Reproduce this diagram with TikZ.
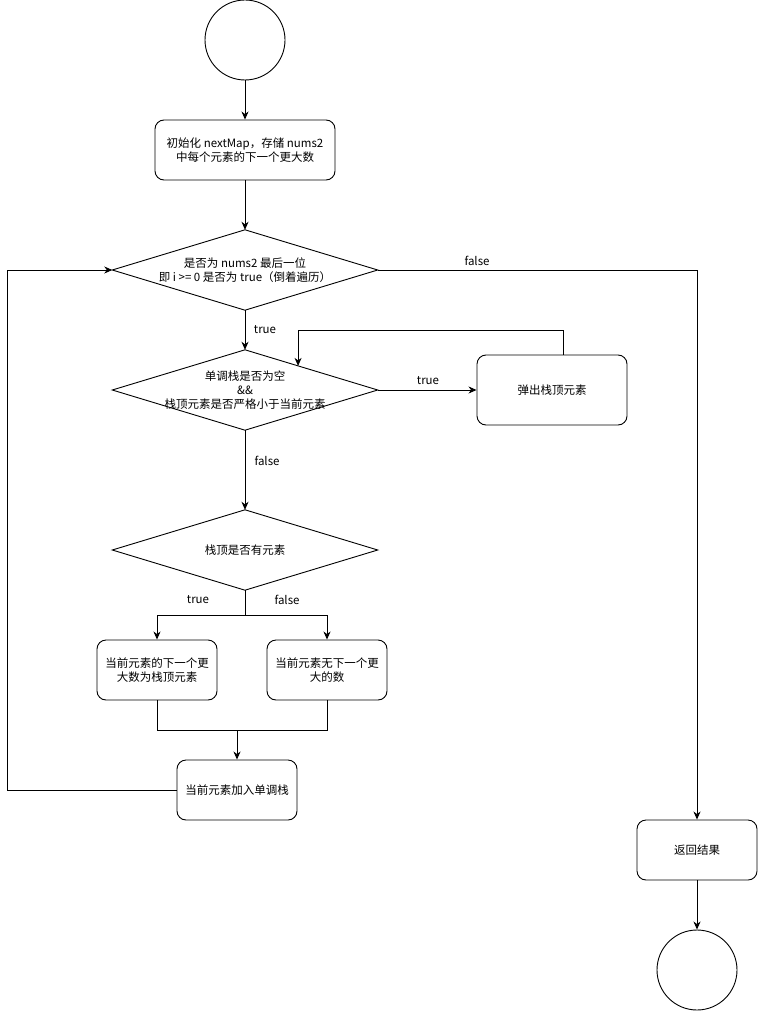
\documentclass[tikz,border=0pt]{standalone}
\usepackage{fontspec}
\setmainfont{Noto Sans CJK SC}
\usetikzlibrary{arrows.meta,calc}
\tikzset{
  every node/.style={font=\fontsize{11.5}{14}\selectfont},
  ln/.style={line width=0.9pt, draw=black},
  arr/.style={ln, -{Stealth[length=8pt,width=7pt,inset=2.5pt]}},
  rbox/.style={ln, rounded corners=9pt, minimum width=#1, minimum height=60pt, align=center, inner sep=2pt},
  dtext/.style={minimum width=265pt, minimum height=80pt, align=center, inner sep=0pt},
  circ/.style={ln, circle, minimum size=80pt, inner sep=0pt},
  lbl/.style={inner sep=1pt}
}
\begin{document}
\begin{tikzpicture}[x=1pt,y=-1pt]
\useasboundingbox (0,0) rectangle (758,1011);
\node[circ] (start) at (245,40) {};
\node[rbox=180pt] (b1) at (245,150) {初始化 nextMap，存储 nums2\\中每个元素的下一个更大数};
\node[dtext] (d1) at (245,270) {是否为 nums2 最后一位\\即 i >= 0 是否为 true（倒着遍历）};
\draw[ln] (d1.north) -- (d1.east) -- (d1.south) -- (d1.west) -- cycle;
\node[dtext] (d2) at (245,390) {单调栈是否为空\\\&\&\\栈顶元素是否严格小于当前元素};
\draw[ln] (d2.north) -- (d2.east) -- (d2.south) -- (d2.west) -- cycle;
\node[rbox=150pt, minimum height=70pt] (pop) at (552,390) {弹出栈顶元素};
\node[dtext] (d3) at (245,550) {栈顶是否有元素};
\draw[ln] (d3.north) -- (d3.east) -- (d3.south) -- (d3.west) -- cycle;
\node[rbox=120pt] (bt) at (157,670) {当前元素的下一个更\\大数为栈顶元素};
\node[rbox=120pt] (bf) at (327,670) {当前元素无下一个更\\大的数};
\node[rbox=120pt] (ba) at (237,790) {当前元素加入单调栈};
\node[rbox=120pt] (ret) at (697,850) {返回结果};
\node[circ] (end) at (697,970) {};
\coordinate (d2in) at ($(d2.north)!0.4!(d2.east)$);
\coordinate (m) at (237,730);
% connectors
\draw[arr] (start) -- (b1);
\draw[arr] (b1) -- (d1.north);
\draw[arr] (d1.south) -- (d2.north);
\draw[arr] (d2.east) -- (pop.west);
\draw[arr] ([xshift=11pt]pop.north) -- ++(0,-24) -| (d2in);
\draw[arr] (d2.south) -- (d3.north);
\draw[arr] (d3.south) -- ++(0,25) -| (bt.north);
\draw[arr] (d3.south) -- ++(0,25) -| (bf.north);
\draw[ln] (bt.south) |- (m);
\draw[ln] (bf.south) |- (m);
\draw[arr] (m) -- (ba.north);
\draw[arr] (ba.west) -- ++(-169,0) |- (d1.west);
\draw[arr] (d1.east) -| (ret.north);
\draw[arr] (ret) -- (end);
% labels
\node[lbl] (l1) at (477,261) {false};
\node[lbl] (l2) at (265,330) {true};
\node[lbl] (l3) at (428,381) {true};
\node[lbl] (l4) at (267,461) {false};
\node[lbl] (l5) at (198,600) {true};
\node[lbl] (l6) at (287,600) {false};
\end{tikzpicture}
\end{document}
